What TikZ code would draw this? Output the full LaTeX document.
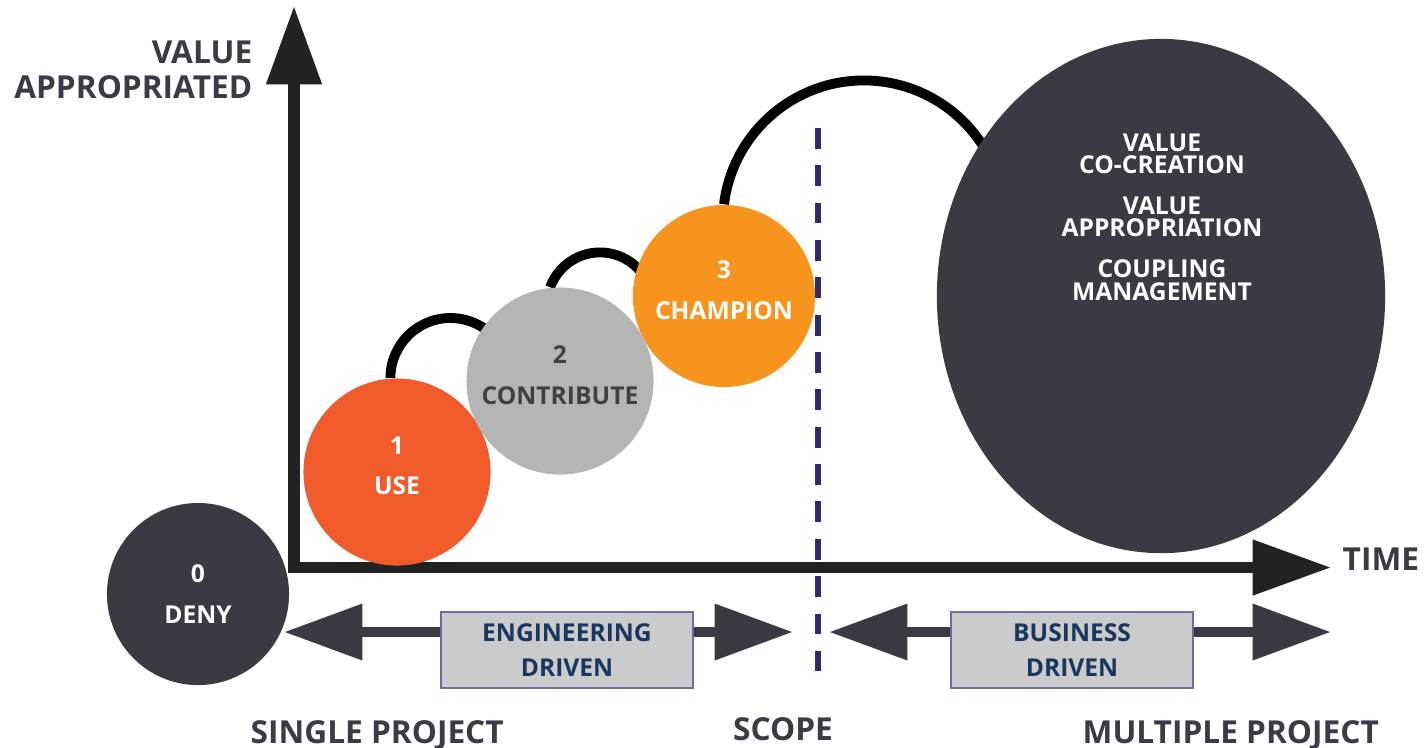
\documentclass[tikz,border=0pt]{standalone}
\usepackage{fontspec}
\setmainfont{Open Sans}
\usetikzlibrary{arrows.meta,backgrounds,shapes.geometric}
\definecolor{slate}{HTML}{3A3A42}
\definecolor{axisgray}{HTML}{222222}
\definecolor{useorange}{HTML}{F15A2B}
\definecolor{contribgray}{HTML}{B5B5B5}
\definecolor{champorange}{HTML}{F7941E}
\definecolor{scopeblue}{HTML}{2E2A6B}
\definecolor{boxgray}{HTML}{CBCBCB}
\definecolor{boxline}{HTML}{6E6B9E}
\definecolor{navy}{HTML}{17375E}
\definecolor{labelgray}{HTML}{3A3B44}
\definecolor{textgray}{HTML}{404040}
\begin{document}
\begin{tikzpicture}[x=0.01cm,y=-0.01cm,
	axis/.style={draw=axisgray,line width=3.2pt,{Triangle[length=22pt,width=16pt,line width=0pt]}-{Triangle[length=22pt,width=16pt,line width=0pt]}},
	span/.style={draw=slate,line width=3.1pt,{Triangle[length=22pt,width=16.2pt,line width=0pt]}-{Triangle[length=22pt,width=16.2pt,line width=0pt]}},
	stage/.style={circle,minimum size=1.87cm,inner sep=0pt,align=center,text=white,text depth=3.4pt,font=\fontsize{7}{11.4}\selectfont\bfseries},
	hop/.style={draw=black,line width=2.8pt},
	drive/.style={draw=boxline,line width=0.6pt,fill=boxgray,text=navy,minimum height=0.76cm,inner sep=0pt,align=center,font=\fontsize{7}{10.2}\selectfont\bfseries},
	axislabel/.style={text=labelgray,inner sep=0pt,font=\fontsize{9}{9.7}\selectfont\bfseries},
	scopeline/.style={draw=scopeblue,line width=1.5pt,dash pattern=on 5.9pt off 4.72pt}]
	\useasboundingbox (0,0) rectangle (1425,747);
	\coordinate (origin) at (294,567.5);
	\coordinate (ytip) at (294,7);
	\coordinate (xtip) at (1330,567.5);
	\draw[axis] (ytip) -- (origin) -- (xtip);
	\node[axislabel,align=right,anchor=south east] (vlabel) at (253,99) {VALUE\\APPROPRIATED};
	\node[axislabel,anchor=base west] (tlabel) at (1342,570) {TIME};
	\node[stage,fill=slate,text depth=0pt,minimum size=1.82cm] (deny) at (198,594) {0\\DENY};
	\node[stage,fill=useorange] (use) at (397,472) {1\\USE};
	\node[stage,fill=contribgray,text=textgray] (contrib) at (560,381) {2\\CONTRIBUTE};
	\node[stage,fill=champorange,minimum size=1.82cm] (champ) at (724,296) {3\\CHAMPION};
	\node[ellipse,fill=slate,minimum width=4.48cm,minimum height=5.14cm,inner sep=0pt] (coupled) at (1161,296) {};
	\node[text=white,align=center,inner sep=0pt,font=\fontsize{7}{6.3}\selectfont\bfseries] (roles) at (1162,217) {VALUE\\CO-CREATION\\[5.4pt]VALUE\\APPROPRIATION\\[5.4pt]COUPLING\\MANAGEMENT};
	\begin{scope}[on background layer]
		\draw[hop] (use.94) arc[start angle=180,end angle=340,radius=60];
		\draw[hop] (contrib.96) arc[start angle=200,end angle=340,radius=53];
		\draw[hop] (champ.north) arc[start angle=187,end angle=332,radius=141];
	\end{scope}
	\coordinate (scopetop) at (818,128);
	\coordinate (scopebot) at (818,671);
	\draw[scopeline] (scopetop) -- (scopebot);
	\coordinate (engl) at (285,632);
	\coordinate (engr) at (792,632);
	\coordinate (bizl) at (830,632);
	\coordinate (bizr) at (1330,632);
	\draw[span] (engl) -- (engr);
	\draw[span] (bizl) -- (bizr);
	\node[drive,minimum width=2.52cm] (engbox) at (567,650) {ENGINEERING\\DRIVEN};
	\node[drive,minimum width=2.42cm] (bizbox) at (1072,650) {BUSINESS\\DRIVEN};
	\node[axislabel,anchor=base west] (single) at (250,743) {SINGLE PROJECT};
	\node[axislabel,anchor=base] (scopelabel) at (783,740) {SCOPE};
	\node[axislabel,anchor=base west] (multi) at (1082,743) {MULTIPLE PROJECT};
\end{tikzpicture}
\end{document}
